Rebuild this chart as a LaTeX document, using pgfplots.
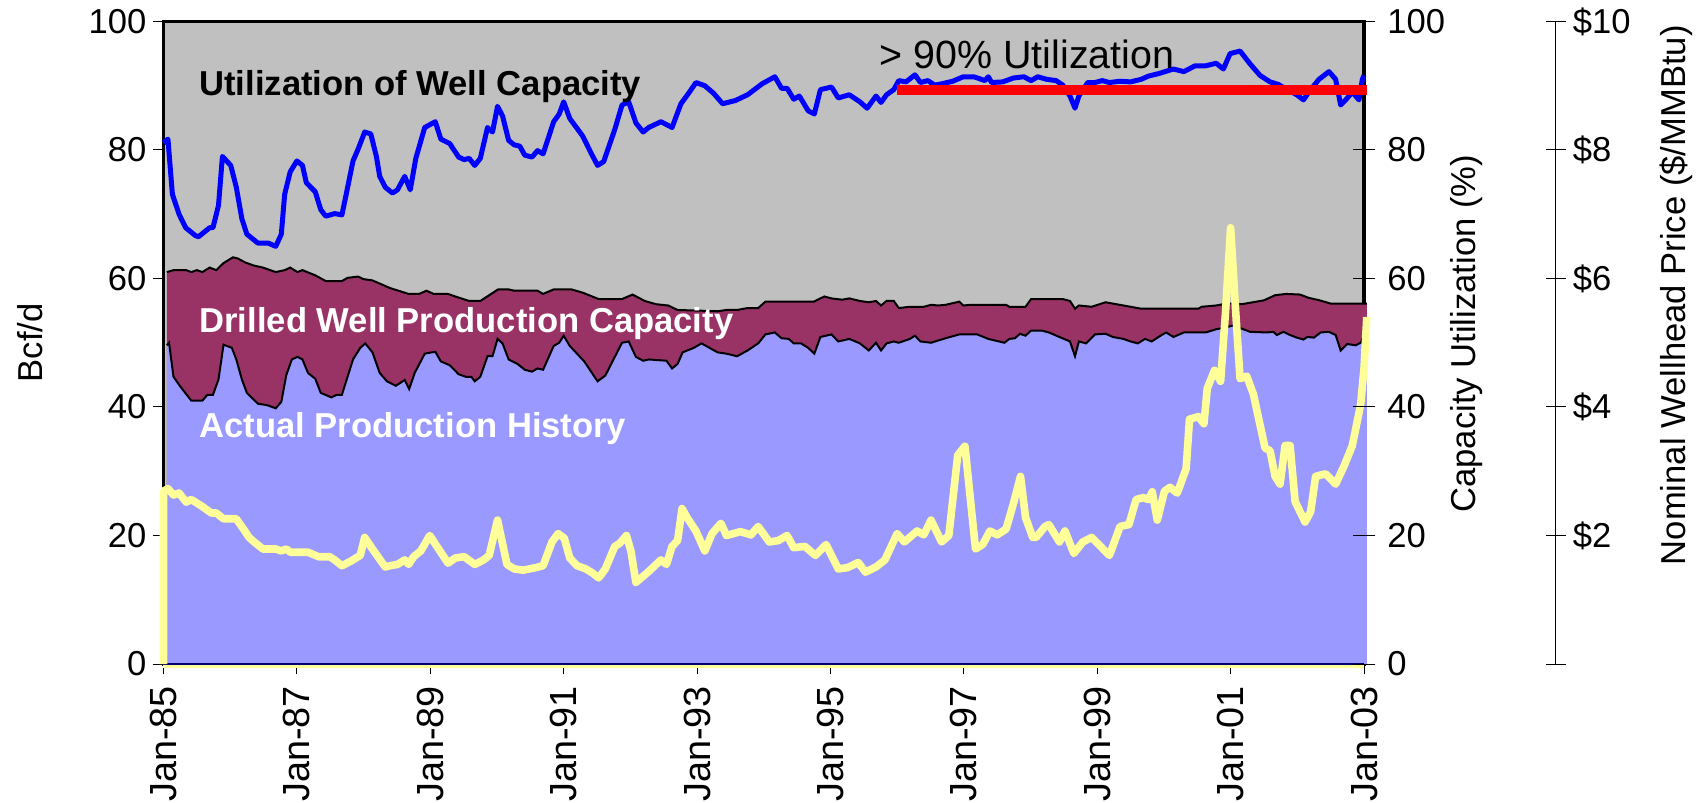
\documentclass[border=0pt]{standalone}
\usepackage{fontspec}
\setmainfont{Liberation Sans}
\usepackage{pgfplots}
\pgfplotsset{compat=1.18}
\usepackage{pgfplotstable}
\definecolor{bggray}{HTML}{C0C0C0}
\definecolor{maroon}{HTML}{993366}
\definecolor{peri}{HTML}{9999FF}
\definecolor{ublue}{HTML}{0000FF}
\definecolor{pyellow}{HTML}{FFFF99}
\definecolor{ured}{HTML}{FF0000}
\newcommand{\fs}{\fontsize{17.3bp}{20bp}\selectfont}
\newcommand{\fx}{\fontsize{18.9bp}{22bp}\selectfont}

\pgfplotstableread{
m v
0.6 61.0
1.8 61.3
4.1 61.3
5.0 61.0
6.0 61.3
7.0 61.0
8.3 61.7
9.5 61.3
10.8 62.4
12.5 63.3
13.4 63.1
14.7 62.5
16.3 62.0
17.9 61.7
20.2 61.0
21.8 61.3
22.8 61.7
24.1 61.0
25.0 61.3
27.3 60.5
29.2 59.6
32.1 59.6
33.1 60.1
35.0 60.3
36.0 59.9
37.6 59.7
40.8 58.5
44.1 57.6
46.0 57.6
47.3 58.1
48.6 57.6
51.2 57.6
52.5 57.2
55.0 56.5
57.0 56.5
58.6 57.4
60.2 58.3
62.1 58.3
63.1 58.1
67.3 58.1
68.3 57.6
70.2 58.3
73.4 58.3
75.4 57.8
78.3 56.8
82.5 56.8
84.4 57.5
86.6 56.5
88.6 56.0
90.8 55.8
92.5 55.1
96.3 55.0
99.7 54.9
101.3 55.1
103.2 55.1
105.1 55.4
107.0 55.4
108.3 56.4
117.0 56.4
118.9 57.2
120.2 56.9
122.1 56.7
123.4 56.9
125.3 56.5
126.9 56.3
128.2 56.5
129.1 55.8
130.1 56.5
131.4 56.5
132.3 55.4
134.3 55.6
136.8 55.6
138.1 55.9
139.4 55.8
140.7 55.9
143.2 56.4
143.9 55.8
145.2 55.9
151.6 55.9
152.2 55.6
155.1 55.6
156.1 56.8
161.8 56.8
163.1 56.5
164.0 55.3
164.7 55.8
167.0 55.6
169.5 56.3
172.7 55.8
175.9 55.3
186.2 55.3
186.8 55.6
189.4 55.8
191.3 56.1
194.0 56.0
196.0 56.3
198.0 56.6
200.0 57.4
202.0 57.6
204.5 57.5
206.0 57.0
208.0 56.6
210.0 56.1
216.5 56.1
}\capacity

\pgfplotstableread{
m v
0.6 49.6
1.0 50.0
1.8 44.7
3.1 43.1
5.0 41.0
7.0 41.0
7.9 41.9
8.9 41.9
9.9 44.3
10.8 49.7
12.3 49.2
13.1 47.4
14.1 44.3
15.0 42.2
17.0 40.5
18.6 40.3
20.2 39.8
21.2 40.8
22.1 45.0
23.1 47.4
24.1 47.8
25.0 47.4
26.0 45.3
27.3 44.4
28.3 42.2
30.2 41.5
31.2 41.9
32.1 41.9
34.1 47.4
35.4 49.2
36.3 49.9
37.6 48.5
38.9 45.3
40.2 44.0
41.8 43.3
43.4 44.2
44.2 42.8
45.2 45.3
47.0 48.3
48.9 48.6
49.9 47.1
51.5 46.5
53.1 45.1
54.4 44.7
55.4 44.7
56.0 44.0
57.0 44.7
58.3 47.9
59.2 47.9
60.1 50.6
61.0 49.9
62.1 47.4
63.7 46.7
65.0 45.8
66.3 45.5
67.3 46.0
68.3 45.8
70.2 49.5
71.2 50.0
72.0 51.1
73.1 49.5
75.7 47.1
78.1 44.0
79.5 44.9
81.2 47.8
82.5 50.0
83.7 50.2
85.0 47.8
86.3 47.2
87.3 47.4
90.5 47.2
91.5 46.0
92.5 46.7
93.4 48.5
95.4 49.2
96.8 49.9
99.7 48.5
101.3 48.3
103.2 47.9
105.1 48.8
107.0 49.9
108.3 51.3
110.0 51.6
111.2 50.7
112.5 50.6
113.4 49.9
114.7 49.9
116.0 49.2
117.1 48.3
118.2 50.9
120.2 51.3
121.4 50.2
123.4 50.6
125.3 49.9
126.9 48.8
128.2 50.0
129.1 48.8
130.1 49.9
131.4 50.2
132.3 50.0
134.3 50.6
135.2 51.1
136.2 50.2
138.1 50.0
140.7 50.7
143.2 51.3
146.4 51.3
148.4 50.6
151.3 50.0
152.2 50.6
153.2 50.7
154.1 51.4
155.1 51.1
156.1 51.9
158.0 51.9
159.3 51.6
161.2 50.9
163.1 50.2
164.0 47.9
164.7 50.2
166.0 49.9
167.6 51.3
169.5 51.4
170.8 50.9
172.7 50.6
174.0 50.2
175.3 49.9
176.6 50.6
177.8 50.2
179.4 51.1
180.4 51.6
181.7 50.9
183.6 51.6
187.5 51.6
189.4 52.1
190.7 52.3
192.5 52.7
193.7 52.3
195.5 51.7
198.5 51.6
199.7 51.7
200.3 51.2
201.5 51.7
202.7 51.2
203.9 50.8
205.1 50.5
205.8 50.9
207.0 50.8
208.2 51.6
209.7 51.7
210.9 51.2
211.8 48.8
213.0 49.8
214.5 49.6
215.4 50.0
216.5 52.0
}\production

\pgfplotstableread{
m v
0.0 81.1
0.8 81.7
1.6 73.1
2.8 70.0
4.0 67.9
5.7 66.7
6.3 66.5
8.3 67.9
8.9 67.9
9.9 71.4
10.6 79.0
12.1 77.6
13.1 74.2
14.1 69.3
15.0 66.9
17.0 65.5
18.9 65.5
20.2 65.0
21.2 66.9
21.8 73.1
22.8 76.6
24.0 78.3
25.0 77.6
25.7 74.9
27.3 73.5
28.3 70.7
29.2 69.7
30.8 70.1
32.1 69.9
32.8 72.8
34.1 78.3
35.0 80.1
36.2 82.8
37.3 82.5
38.3 79.0
38.9 75.9
39.9 74.2
41.2 73.3
42.1 73.8
43.4 75.9
44.4 73.8
45.4 78.7
47.0 83.5
48.9 84.4
49.9 81.7
51.5 81.0
53.1 78.9
54.1 78.5
55.0 78.7
56.0 77.6
57.0 78.7
58.3 83.5
59.2 82.8
60.1 86.8
61.0 85.3
62.1 81.5
63.1 80.8
64.1 80.6
65.0 79.2
66.3 78.9
67.3 79.9
68.3 79.4
70.2 84.4
71.2 85.6
72.0 87.5
73.1 84.9
75.4 82.2
77.0 79.4
78.1 77.6
79.2 78.2
81.2 83.2
82.5 87.0
83.7 87.5
85.0 84.2
86.3 82.8
87.3 83.5
89.5 84.4
91.5 83.5
93.1 87.2
94.7 89.1
95.8 90.5
97.4 90.0
99.0 88.8
100.6 87.2
102.9 87.7
105.1 88.6
107.7 90.3
110.0 91.4
111.2 89.6
112.2 89.6
113.4 87.9
114.4 88.4
116.0 86.1
117.1 85.6
118.2 89.4
120.2 89.8
121.4 88.1
123.4 88.6
125.3 87.5
126.6 86.5
128.2 88.4
129.1 87.4
130.1 88.6
131.4 89.4
132.3 90.8
133.6 90.6
135.2 91.7
136.2 90.5
137.5 90.8
138.8 90.1
140.0 90.3
142.0 90.7
143.9 91.4
145.8 91.4
147.8 90.8
148.4 91.4
149.0 90.5
151.0 90.6
152.9 91.2
154.8 91.4
156.1 90.8
157.3 91.4
158.9 91.0
160.6 90.8
161.8 90.1
163.1 88.4
164.0 86.5
164.7 88.4
166.3 90.5
167.6 90.5
168.9 90.8
170.2 90.5
172.1 90.7
174.0 90.6
175.9 91.0
177.2 91.5
179.1 91.9
181.7 92.6
183.6 92.2
185.6 93.1
187.5 93.1
189.4 93.5
190.7 92.6
191.9 95.0
193.7 95.4
195.5 93.4
197.3 91.6
199.1 90.6
200.6 90.2
202.1 89.4
203.9 88.6
205.1 87.8
206.4 89.4
207.9 91.0
209.7 92.2
210.9 91.0
211.8 87.0
212.7 87.8
213.9 89.0
215.1 87.8
215.7 91.0
216.0 91.6
}\util

\pgfplotstableread{
m v
0.0 0.0
0.0 2.69
0.8 2.73
1.8 2.63
2.8 2.66
4.1 2.52
5.0 2.56
7.0 2.45
8.6 2.35
9.5 2.35
10.8 2.26
13.1 2.26
14.4 2.10
15.4 1.97
16.3 1.90
17.9 1.79
20.2 1.79
21.2 1.76
22.1 1.79
22.8 1.74
26.0 1.74
27.9 1.67
29.9 1.67
30.8 1.62
32.1 1.53
33.7 1.60
35.4 1.69
36.2 1.97
37.6 1.79
39.9 1.51
40.8 1.53
42.1 1.55
43.4 1.62
44.1 1.55
45.0 1.67
46.3 1.76
47.9 2.00
49.5 1.79
51.2 1.57
52.5 1.65
54.1 1.67
56.0 1.55
57.6 1.62
58.6 1.69
60.1 2.24
61.8 1.55
63.1 1.48
64.7 1.46
67.0 1.50
68.3 1.53
69.9 1.90
71.0 2.03
72.1 1.96
73.1 1.65
74.4 1.53
76.0 1.48
77.3 1.41
78.3 1.34
79.5 1.48
81.2 1.83
82.1 1.88
83.3 2.00
84.1 1.76
85.0 1.27
87.3 1.44
89.5 1.62
90.5 1.55
91.5 1.83
92.5 1.92
93.3 2.42
94.2 2.28
95.8 2.07
97.4 1.76
98.7 2.03
100.3 2.19
101.3 2.00
103.8 2.06
105.7 2.01
107.0 2.14
109.0 1.90
110.6 1.92
112.2 2.00
113.4 1.81
115.4 1.83
117.3 1.69
119.2 1.86
121.4 1.48
123.1 1.50
125.0 1.58
126.3 1.43
128.2 1.51
129.8 1.62
132.0 2.03
133.3 1.90
135.6 2.07
136.8 2.01
138.1 2.24
140.0 1.90
141.3 2.00
142.9 3.25
144.2 3.39
146.1 1.79
147.4 1.86
148.7 2.07
150.0 2.01
151.6 2.10
152.9 2.49
154.2 2.92
155.1 2.28
156.4 1.97
157.0 1.97
158.6 2.14
159.3 2.17
161.2 1.90
162.2 2.07
163.8 1.72
165.4 1.90
167.0 1.97
168.6 1.83
170.2 1.69
172.1 2.14
173.7 2.17
175.0 2.56
176.3 2.59
177.2 2.56
177.9 2.68
178.8 2.24
180.1 2.69
181.1 2.75
182.4 2.66
184.0 3.04
184.6 3.81
186.2 3.85
187.2 3.74
187.8 4.29
189.1 4.57
190.2 4.40
191.1 5.50
192.0 6.79
192.9 5.50
193.7 4.44
194.9 4.48
196.1 4.20
197.3 3.72
198.2 3.36
199.1 3.32
200.0 2.92
200.9 2.80
201.8 3.40
202.7 3.40
203.6 2.53
204.5 2.37
205.4 2.21
206.4 2.37
207.3 2.92
209.1 2.96
210.9 2.80
212.4 3.08
213.9 3.40
215.4 4.04
216.0 4.60
216.5 5.40
}\price

\begin{document}
\begin{tikzpicture}
\useasboundingbox (-81.75bp,-69.5bp) rectangle (768.75bp,332bp);
\pgfplotsset{
  base/.style={scale only axis, width=600.25bp, height=321.25bp,
    xmin=0, xmax=216, at={(0,0)}, anchor=south west, clip=false,
    /pgf/number format/assume math mode=true,
    tick label style={font=\fs}, label style={font=\fs}}
}
% main axis: areas
\begin{axis}[base, ymin=0, ymax=100,
  axis background/.style={fill=bggray},
  axis line style={line width=1.8bp, black},
  tick pos=left, tick align=outside,
  major tick length=5bp,
  tick style={line width=0.5bp, black},
  xtick={0,24,...,216},
  xticklabels={Jan-85,Jan-87,Jan-89,Jan-91,Jan-93,Jan-95,Jan-97,Jan-99,Jan-01,Jan-03},
  xticklabel style={rotate=90, anchor=east, font=\fx},
  xticklabel shift=2.5bp,
  ytick={0,20,...,100},
  every axis y label/.style={at={(axis description cs:-0.1112,0.5)}, rotate=90, anchor=center, font=\fs},
  ylabel={Bcf/d},
]
\addplot[pyellow, line width=3.8bp] coordinates {(0,0) (216,0)};
\addplot[fill=maroon, draw=none] table {\capacity} \closedcycle;
\addplot[fill=peri, draw=none] table {\production} \closedcycle;
\addplot[black, line width=1bp] table {\capacity};
\addplot[black, line width=1bp] table {\production};
\addplot[black!55!blue, line width=0.6bp] coordinates {(0,0) (216,0)};
\end{axis}
% price line
\begin{axis}[base, ymin=0, ymax=10, hide axis]
\addplot[pyellow, line width=3.8bp, line join=round] table {\price};
\end{axis}
% utilization axis
\begin{axis}[base, ymin=0, ymax=100,
  axis x line=none, axis y line*=right,
  y axis line style={draw=none},
  ytick={0,20,...,100},
  yticklabel style={xshift=2.7bp},
  tick align=center, major tick length=11bp,
  tick style={line width=0.5bp, black},
  every axis y label/.style={at={(axis description cs:1.0858,0.514)}, rotate=90, anchor=center, font=\fs},
  ylabel={Capacity Utilization (\%)},
]
\addplot[ublue, line width=2.5bp, line join=round] table {\util};
\addplot[ured, line width=5bp] coordinates {(132,89.4) (216.5,89.4)};
\node[anchor=west, font=\bfseries\fs, inner sep=0pt] at (axis cs:6.4,89.9) {Utilization of Well Capacity};
\node[anchor=west, font=\bfseries\fs, text=white, inner sep=0pt] at (axis cs:6.4,53.0) {Drilled Well Production Capacity};
\node[anchor=west, font=\bfseries\fs, text=white, inner sep=0pt] at (axis cs:6.4,36.7) {Actual Production History};
\node[anchor=west, font=\fontsize{19.7bp}{22bp}\selectfont, inner sep=0pt] at (axis cs:128.8,94.9) {> 90\% Utilization};
\end{axis}
% price scale axis
\begin{axis}[base, at={(95.9bp,0)}, ymin=0, ymax=10,
  axis x line=none, axis y line*=right,
  axis line style={line width=0.6bp, black},
  ytick={0,2,...,10},
  yticklabels={,\$2,\$4,\$6,\$8,\$10},
  tick align=center, major tick length=10bp,
  tick style={line width=0.5bp, black},
  every axis y label/.style={at={(axis description cs:1.1,0.574)}, rotate=90, anchor=center, font=\fs},
  ylabel={Nominal Wellhead Price (\$/MMBtu)},
]
\addplot[draw=none] coordinates {(0,0)};
\end{axis}
\end{tikzpicture}
\end{document}
